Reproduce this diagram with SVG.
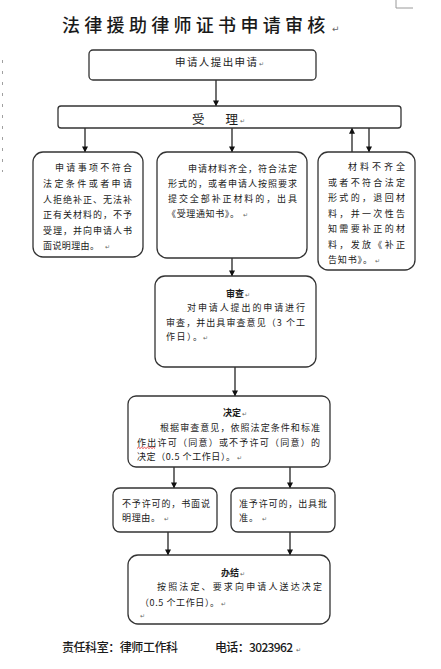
<svg xmlns="http://www.w3.org/2000/svg" width="441" height="669" viewBox="0 0 441 669">
<style>
  text { font-family: "Noto Sans CJK SC", "Noto Sans", sans-serif; fill: #1a1a1a; }
  .title { font-size: 18px; font-weight: 500; letter-spacing: 4.3px; }
  .t { font-size: 9px; }
  .b { font-size: 9px; font-weight: 700; }
  .m { font-size: 10.5px; }
  .f { font-size: 12px; font-weight: 500; }
  .pm { font-family: "DejaVu Sans", sans-serif; font-size: 6px; fill: #666; }
  .box { fill: #ffffff; stroke: #333333; stroke-width: 1.3; }
  .ln { stroke: #111111; stroke-width: 1.2; fill: none; }
</style>
<defs>
  <marker id="ah" viewBox="0 0 8 8" refX="7.5" refY="4" markerWidth="6" markerHeight="6" orient="auto" markerUnits="userSpaceOnUse">
    <path d="M0,0 L8,4 L0,8 Z" fill="#111111"/>
  </marker>
</defs>
<rect x="0" y="0" width="441" height="669" fill="#ffffff"/>

<!-- page marks -->
<g id="page-marks">
  <path d="M396,0 V8 H413" fill="none" stroke="#9a9a9a" stroke-width="1"/>
  <line x1="2.5" y1="60" x2="2.5" y2="172" stroke="#a0a0a0" stroke-width="1" stroke-dasharray="3,8"/>
</g>

<g id="title">
  <text class="title" x="62" y="32">法律援助律师证书申请审核</text>
  <text class="pm" x="332" y="32" style="font-size:9px">↵</text>
</g>

<g id="connectors">
  <line class="ln" x1="216" y1="80" x2="216" y2="106" marker-end="url(#ah)"/>
  <line class="ln" x1="85" y1="128" x2="85" y2="152" marker-end="url(#ah)"/>
  <line class="ln" x1="232" y1="128" x2="232" y2="152" marker-end="url(#ah)"/>
  <line class="ln" x1="352" y1="152" x2="352" y2="128" marker-end="url(#ah)"/>
  <line class="ln" x1="369" y1="128" x2="369" y2="152" marker-end="url(#ah)"/>
  <line class="ln" x1="232" y1="258" x2="232" y2="276" marker-end="url(#ah)"/>
  <line class="ln" x1="235" y1="367" x2="235" y2="396" marker-end="url(#ah)"/>
  <line class="ln" x1="174" y1="467" x2="174" y2="488" marker-end="url(#ah)"/>
  <line class="ln" x1="290" y1="467" x2="290" y2="488" marker-end="url(#ah)"/>
  <line class="ln" x1="168" y1="532" x2="168" y2="555" marker-end="url(#ah)"/>
  <line class="ln" x1="290" y1="532" x2="290" y2="555" marker-end="url(#ah)"/>
</g>

<g id="n-apply">
  <rect class="box" x="89" y="50" width="227" height="30" rx="4"/>
  <text class="m" x="175" y="65.5" textLength="82">申请人提出申请</text>
  <text class="pm" x="259" y="66">↵</text>
</g>

<g id="n-accept">
  <rect class="box" x="58" y="106" width="343" height="22" rx="3"/>
  <text x="192" y="123.5" style="font-size:12.5px" textLength="46">受　　理</text>
  <text class="pm" x="240" y="123">↵</text>
</g>

<g id="n-reject">
  <rect class="box" x="33" y="152" width="110" height="105" rx="10"/>
  <text class="t" x="55" y="171.3" textLength="77">申请事项不符合</text>
  <text class="t" x="43" y="186.9" textLength="89">法定条件或者申请</text>
  <text class="t" x="43" y="202.5" textLength="89">人拒绝补正、无法补</text>
  <text class="t" x="43" y="218.1" textLength="89">正有关材料的，不予</text>
  <text class="t" x="43" y="233.7" textLength="89">受理，并向申请人书</text>
  <text class="t" x="43" y="249.3" textLength="56">面说明理由。</text>
  <text class="pm" x="105" y="249">↵</text>
</g>

<g id="n-complete">
  <rect class="box" x="157" y="152" width="150" height="106" rx="10"/>
  <text class="t" x="188" y="171.5" textLength="109">申请材料齐全，符合法定</text>
  <text class="t" x="168" y="186.5" textLength="129">形式的，或者申请人按照要求</text>
  <text class="t" x="168" y="201.5" textLength="129">提交全部补正材料的，出具</text>
  <text class="t" x="167" y="216.5" textLength="72">《受理通知书》。</text>
  <text class="pm" x="243" y="216.5">↵</text>
</g>

<g id="n-incomplete">
  <rect class="box" x="318" y="152" width="97" height="118" rx="10"/>
  <text class="t" x="348" y="170" textLength="57">材料不齐全</text>
  <text class="t" x="328" y="185.5" textLength="77">或者不符合法定</text>
  <text class="t" x="328" y="201" textLength="77">形式的，退回材</text>
  <text class="t" x="328" y="216.5" textLength="77">料，并一次性告</text>
  <text class="t" x="328" y="232" textLength="77">知需要补正的材</text>
  <text class="t" x="328" y="247.5" textLength="77">料，发放《补正</text>
  <text class="t" x="328" y="263" textLength="44">告知书》。</text>
  <text class="pm" x="375" y="263">↵</text>
</g>

<g id="n-review">
  <rect class="box" x="155" y="276" width="161" height="91" rx="10"/>
  <text class="b" x="226" y="297">审查</text>
  <text class="pm" x="245" y="297">↵</text>
  <text class="t" x="187" y="311.3" textLength="118">对申请人提出的申请进行</text>
  <text class="t" x="166" y="325.8" textLength="139">审查，并出具审查意见（3 个工</text>
  <text class="t" x="166" y="340.3" textLength="36">作日）。</text>
  <text class="pm" x="203" y="340">↵</text>
</g>

<g id="n-decide">
  <rect class="box" x="128" y="396" width="202" height="71" rx="8"/>
  <text class="b" x="223" y="416.3">决定</text>
  <text class="pm" x="242" y="416">↵</text>
  <text class="t" x="160" y="431.3" textLength="160">根据审查意见，依照法定条件和标准</text>
  <text class="t" x="137" y="445.8" textLength="183">作出许可（同意）或不予许可（同意）的</text>
  <path d="M137,448.5 l1.5,-1.2 l1.5,1.2 l1.5,-1.2 l1.5,1.2 l1.5,-1.2 l1.5,1.2 l1.5,-1.2 l1.5,1.2 l1.5,-1.2 l1.5,1.2 l1.5,-1.2 l1.5,1.2" fill="none" stroke="#e02020" stroke-width="0.8"/>
  <text class="t" x="137" y="460.3" textLength="98">决定（0.5 个工作日）。</text>
  <text class="pm" x="237" y="460">↵</text>
</g>

<g id="n-deny">
  <rect class="box" x="113" y="488" width="104" height="44" rx="7"/>
  <text class="t" x="122" y="507.3" textLength="88">不予许可的，书面说</text>
  <text class="t" x="122" y="521.3" textLength="38">明理由。</text>
  <text class="pm" x="164" y="521">↵</text>
</g>

<g id="n-grant">
  <rect class="box" x="231" y="488" width="104" height="44" rx="7"/>
  <text class="t" x="239" y="507.3" textLength="88">准予许可的，出具批</text>
  <text class="t" x="239" y="521.3" textLength="19">准。</text>
  <text class="pm" x="262" y="521">↵</text>
</g>

<g id="n-finish">
  <rect class="box" x="128" y="555" width="202" height="69" rx="10"/>
  <text class="b" x="221" y="576.3">办结</text>
  <text class="pm" x="240" y="576">↵</text>
  <text class="t" x="157" y="590.3" textLength="165">按照法定、要求向申请人送达决定</text>
  <text class="t" x="140" y="606.3" textLength="79">（0.5 个工作日）。</text>
  <text class="pm" x="221" y="606">↵</text>
  <text class="pm" x="140" y="618">↵</text>
</g>

<g id="footer">
  <text class="f" x="62" y="652" textLength="116">责任科室：律师工作科</text>
  <text class="f" x="215" y="652" textLength="78">电话：3023962</text>
  <text class="pm" x="296" y="652">↵</text>
</g>
</svg>
